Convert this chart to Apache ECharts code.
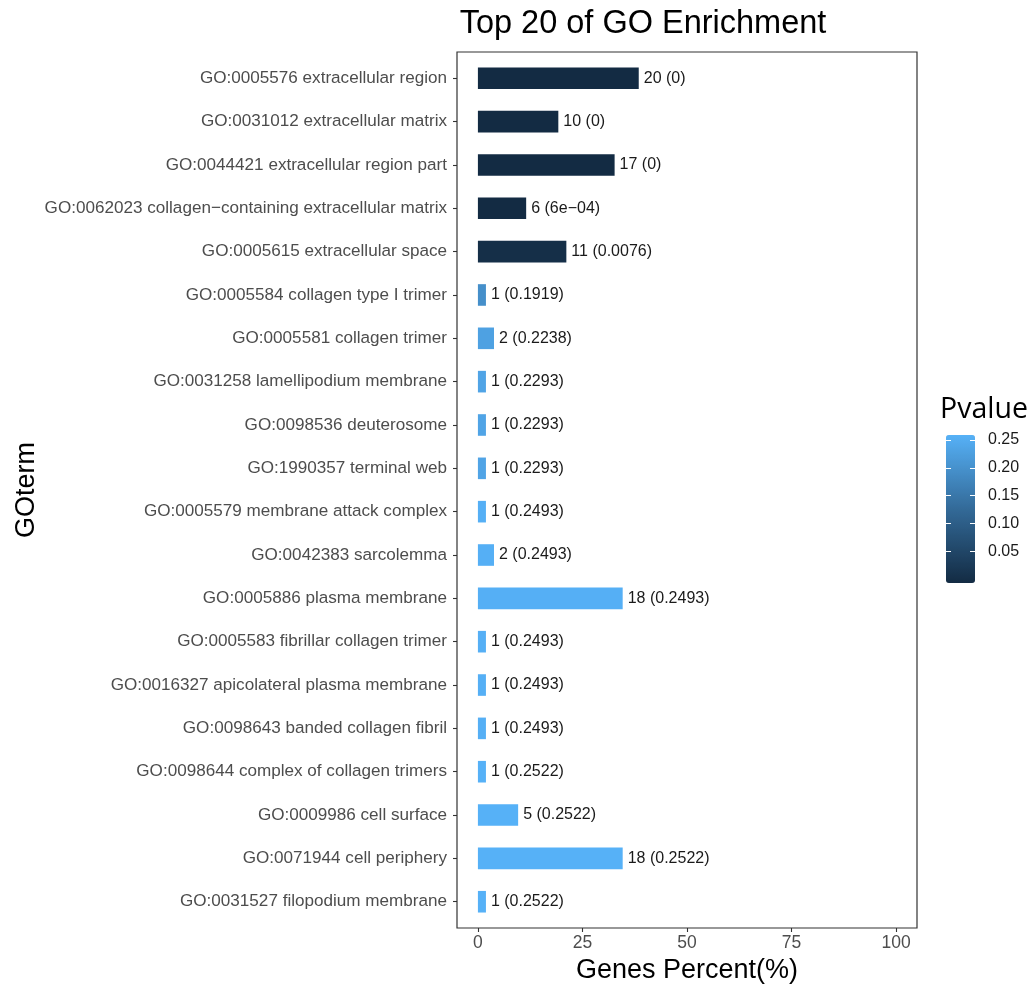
<!DOCTYPE html>
<html>
<head>
<meta charset="utf-8">
<script src="https://cdn.jsdelivr.net/npm/echarts@6/dist/echarts.min.js"></script>
<style>
html,body{margin:0;padding:0;background:#fff;}
#chart{width:1034px;height:985px;}
</style>
</head>
<body>
<div id="chart"></div>
<script>
const terms = [
  "GO:0005576 extracellular region",
  "GO:0031012 extracellular matrix",
  "GO:0044421 extracellular region part",
  "GO:0062023 collagen\u2212containing extracellular matrix",
  "GO:0005615 extracellular space",
  "GO:0005584 collagen type I trimer",
  "GO:0005581 collagen trimer",
  "GO:0031258 lamellipodium membrane",
  "GO:0098536 deuterosome",
  "GO:1990357 terminal web",
  "GO:0005579 membrane attack complex",
  "GO:0042383 sarcolemma",
  "GO:0005886 plasma membrane",
  "GO:0005583 fibrillar collagen trimer",
  "GO:0016327 apicolateral plasma membrane",
  "GO:0098643 banded collagen fibril",
  "GO:0098644 complex of collagen trimers",
  "GO:0009986 cell surface",
  "GO:0071944 cell periphery",
  "GO:0031527 filopodium membrane"
];
const geneCounts = [20, 10, 17, 6, 11, 1, 2, 1, 1, 1, 1, 2, 18, 1, 1, 1, 1, 5, 18, 1];
const genePercents = [38.46, 19.23, 32.69, 11.54, 21.15, 1.92, 3.85, 1.92, 1.92, 1.92, 1.92, 3.85, 34.62, 1.92, 1.92, 1.92, 1.92, 9.62, 34.62, 1.92];
const pvalues = [0, 0, 0, 0.0006, 0.0076, 0.1919, 0.2238, 0.2293, 0.2293, 0.2293, 0.2493, 0.2493, 0.2493, 0.2493, 0.2493, 0.2493, 0.2522, 0.2522, 0.2522, 0.2522];
const pvalueLabels = ["0", "0", "0", "6e\u221204", "0.0076", "0.1919", "0.2238", "0.2293", "0.2293", "0.2293", "0.2493", "0.2493", "0.2493", "0.2493", "0.2493", "0.2493", "0.2522", "0.2522", "0.2522", "0.2522"];
const xTicks = [0, 25, 50, 75, 100];
const legendTicks = [0.05, 0.10, 0.15, 0.20, 0.25];

const FONT = "'Liberation Sans', Arial, sans-serif";
const barData = terms.map((t, i) => [genePercents[i], t, pvalues[i]]);

const chart = echarts.init(document.getElementById('chart'), null, {renderer: 'canvas'});
chart.setOption({
  backgroundColor: '#ffffff',
  animation: false,
  textStyle: {fontFamily: FONT},
  title: [
    {
      text: 'Top 20 of GO Enrichment',
      left: 638, top: 3, textAlign: 'center',
      textStyle: {fontFamily: FONT, fontSize: 32.5, fontWeight: 'normal', color: '#000'}
    },
    {
      text: 'Pvalue',
      left: 935, top: 390,
      textStyle: {fontFamily: "'Open Sans', sans-serif", fontSize: 28.5, fontWeight: 'normal', color: '#000'}
    }
  ],
  grid: [
    {left: 457, top: 56.6, width: 460, height: 866.8, containLabel: false, outerBoundsMode: 'none'},
    {left: 457, top: 52, width: 460, height: 876, show: true, borderColor: '#333333', borderWidth: 1.2, backgroundColor: 'transparent', z: 3, outerBoundsMode: 'none'},
    {left: 946, top: 435, width: 29, height: 148, outerBoundsMode: 'none'}
  ],
  xAxis: [
    {
      type: 'value', gridIndex: 0, min: -5, max: 105, offset: 4.6,
      name: 'Genes Percent(%)', nameLocation: 'middle', nameGap: 26,
      nameTextStyle: {fontFamily: FONT, fontSize: 27, color: '#000'},
      axisLine: {show: false, onZero: false},
      axisTick: {show: true, length: 4, customValues: xTicks, lineStyle: {color: '#333', width: 1.1}},
      axisLabel: {customValues: xTicks, fontSize: 17.5, color: '#4D4D4D', margin: 6},
      splitLine: {show: false}
    },
    {type: 'value', gridIndex: 1, show: false},
    {type: 'value', gridIndex: 2, show: false}
  ],
  yAxis: [
    {
      type: 'category', gridIndex: 0, data: terms, inverse: true,
      name: 'GOterm', nameLocation: 'middle', nameGap: 417,
      nameTextStyle: {fontFamily: FONT, fontSize: 27, color: '#000'},
      axisLine: {show: false, onZero: false},
      axisTick: {show: true, alignWithLabel: true, length: 4, lineStyle: {color: '#333', width: 1.1}},
      axisLabel: {fontSize: 17.1, color: '#4D4D4D', margin: 10, interval: 0}
    },
    {type: 'value', gridIndex: 1, show: false},
    {
      type: 'value', gridIndex: 2, position: 'right', min: -0.0066, max: 0.2588, z: 10,
      axisLine: {show: false, onZero: false},
      axisTick: {show: true, inside: true, length: 5, customValues: legendTicks, lineStyle: {color: '#ffffff', width: 1}},
      axisLabel: {customValues: legendTicks, fontSize: 16, color: '#1a1a1a', margin: 13,
        formatter: v => v.toFixed(2)},
      splitLine: {show: false}
    },
    {
      type: 'value', gridIndex: 2, position: 'left', min: -0.0066, max: 0.2588, z: 10,
      axisLine: {show: false, onZero: false},
      axisTick: {show: true, inside: true, length: 5, customValues: legendTicks, lineStyle: {color: '#ffffff', width: 1}},
      axisLabel: {show: false},
      splitLine: {show: false}
    }
  ],
  visualMap: {
    type: 'continuous',
    min: 0, max: 0.2522,
    dimension: 2,
    seriesIndex: 0,
    calculable: false,
    showLabel: false,
    text: null,
    left: 946, top: 435,
    itemWidth: 29, itemHeight: 148,
    padding: 0,
    inRange: {color: ['#132B43', '#336A98', '#56B1F7']}
  },
  series: [
    {
      type: 'bar',
      xAxisIndex: 0, yAxisIndex: 0,
      data: barData,
      encode: {x: 0, y: 1},
      barWidth: 21.6,
      label: {
        show: true, position: 'right', distance: 5,
        fontFamily: FONT, fontSize: 16, color: '#1a1a1a',
        formatter: p => geneCounts[p.dataIndex] + ' (' + pvalueLabels[p.dataIndex] + ')'
      }
    }
  ]
});
</script>
</body>
</html>
